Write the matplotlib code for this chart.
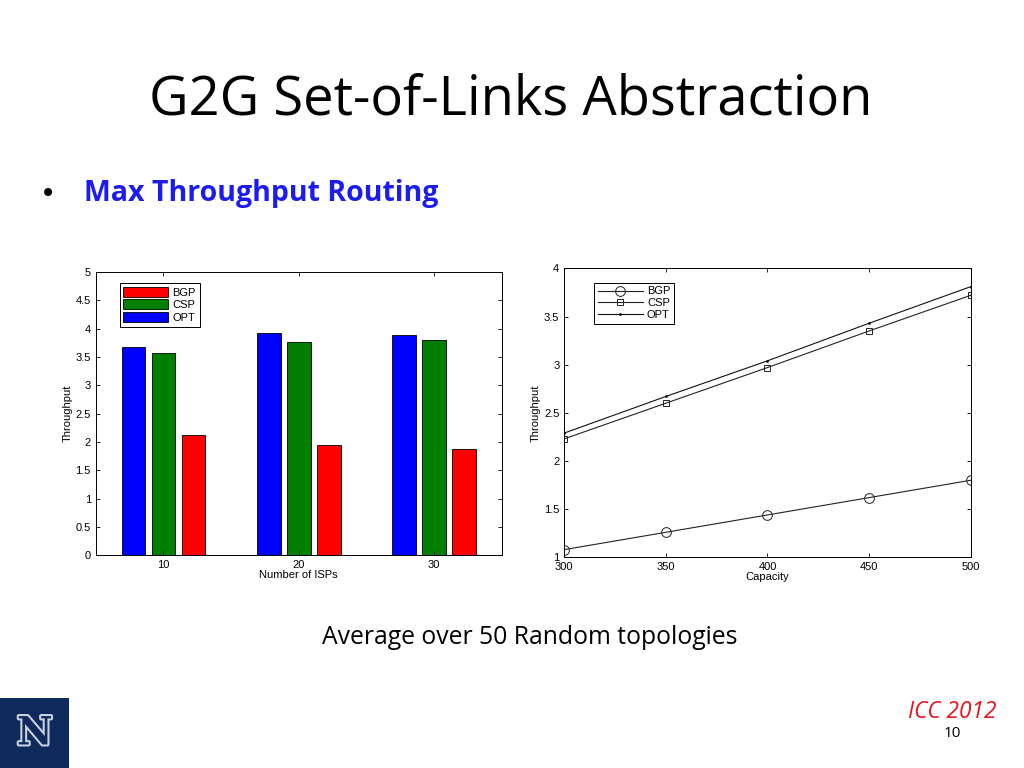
import numpy as np
import matplotlib
matplotlib.use('Agg')
import matplotlib.pyplot as plt
import matplotlib.patheffects as pe
from matplotlib.patches import Rectangle

# bar chart data (left)
isps = ["10", "20", "30"]
bar_opt = [3.67, 3.92, 3.88]
bar_csp = [3.57, 3.77, 3.80]
bar_bgp = [2.12, 1.94, 1.87]

# line chart data (right)
capacity = [300, 350, 400, 450, 500]
line_bgp = [1.08, 1.26, 1.44, 1.62, 1.80]
line_csp = [2.23, 2.60, 2.97, 3.35, 3.72]
line_opt = [2.29, 2.67, 3.04, 3.43, 3.81]

plt.rcParams['font.family'] = ['Liberation Sans', 'DejaVu Sans']

fig = plt.figure(figsize=(10.24, 7.68), dpi=100)
fig.patch.set_facecolor('white')

# slide texts
fig.text(0.4985, 0.87, "G2G Set-of-Links Abstraction", ha='center', va='center',
         fontsize=39.2, family=['Open Sans', 'DejaVu Sans'], color='black')
fig.text(0.047, 0.748, "\u2022", ha='center', va='center', fontsize=20, color='black',
         family=['DejaVu Sans'])
fig.text(0.082, 0.748, "Max Throughput Routing", ha='left', va='center', fontsize=20.5,
         fontweight='bold', color='#1c1cf0', family=['Open Sans', 'DejaVu Sans'])
fig.text(0.517, 0.17, "Average over 50 Random topologies", ha='center', va='center',
         fontsize=17.8, family=['Open Sans', 'DejaVu Sans'])
fig.text(0.973, 0.073, "ICC 2012", ha='right', va='center', fontsize=16.3, style='italic',
         color='#e8141c', family=['Open Sans', 'DejaVu Sans'])
fig.text(0.93, 0.045, "10", ha='center', va='center', fontsize=11,
         family=['Open Sans', 'DejaVu Sans'])

# logo
fig.patches.append(Rectangle((0, 0), 0.067, 0.091, transform=fig.transFigure,
                             facecolor='#0f2a5c', edgecolor='none'))
fig.text(0.034, 0.045, "N", ha='center', va='center', fontsize=28, fontweight='bold',
         family=['DejaVu Serif'], color='#0f2a5c',
         path_effects=[pe.withStroke(linewidth=3, foreground='#c8d0dc')])

tick_kw = dict(direction='in', labelsize=8, length=3, width=0.6,
               top=True, right=True)

# left: bar chart
ax1 = fig.add_axes([0.0935, 0.277, 0.3965, 0.369])
x = np.arange(1, len(isps) + 1)
w = 0.175
off = 0.222
ax1.bar(x - off, bar_opt, w, color='#0000ff', edgecolor='black', linewidth=0.6, label='OPT')
ax1.bar(x, bar_csp, w, color='#007f00', edgecolor='black', linewidth=0.6, label='CSP')
ax1.bar(x + off, bar_bgp, w, color='#ff0000', edgecolor='black', linewidth=0.6, label='BGP')
ax1.set_xlim(0.5, 3.5)
ax1.set_ylim(0, 5)
ax1.set_xticks(x)
ax1.set_xticklabels(isps)
ax1.set_yticks(np.arange(0, 5.01, 0.5))
ax1.set_yticklabels(["0", "0.5", "1", "1.5", "2", "2.5", "3", "3.5", "4", "4.5", "5"])
ax1.tick_params(**tick_kw)
ax1.set_xlabel("Number of ISPs", fontsize=8, labelpad=0)
ax1.set_ylabel("Throughput", fontsize=8, labelpad=2)
h, l = ax1.get_legend_handles_labels()
leg = ax1.legend(h[::-1], l[::-1], loc='upper left', fontsize=8, fancybox=False,
                 edgecolor='black', framealpha=1, borderpad=0.35, labelspacing=0.15,
                 handlelength=4.0, handleheight=1.0, handletextpad=0.4,
                 bbox_to_anchor=(0.045, 0.98))
leg.get_frame().set_linewidth(0.7)
for s in ax1.spines.values():
    s.set_linewidth(0.7)

# right: line chart
ax2 = fig.add_axes([0.551, 0.2743, 0.397, 0.3763])
ax2.plot(capacity, line_bgp, color='#222222', linewidth=0.8, marker='o', markersize=7,
         markerfacecolor='none', markeredgewidth=0.7, label='BGP')
ax2.plot(capacity, line_csp, color='#222222', linewidth=0.8, marker='s', markersize=4.5,
         markerfacecolor='none', markeredgewidth=0.7, label='CSP')
ax2.plot(capacity, line_opt, color='#111111', linewidth=0.8, marker='.', markersize=2,
         label='OPT')
ax2.set_xlim(300, 500)
ax2.set_ylim(1, 4)
ax2.set_xticks(capacity)
ax2.set_yticks([1, 1.5, 2, 2.5, 3, 3.5, 4])
ax2.set_yticklabels(["1", "1.5", "2", "2.5", "3", "3.5", "4"])
ax2.tick_params(**tick_kw)
ax2.set_xlabel("Capacity", fontsize=8, labelpad=0)
ax2.set_ylabel("Throughput", fontsize=8, labelpad=2)
leg2 = ax2.legend(loc='upper left', fontsize=8, fancybox=False, edgecolor='black',
                  framealpha=1, borderpad=0.35, labelspacing=0.15, handlelength=4.0,
                  handletextpad=0.4, bbox_to_anchor=(0.06, 0.97))
leg2.get_frame().set_linewidth(0.7)
for s in ax2.spines.values():
    s.set_linewidth(0.7)

fig.savefig("out.png", dpi=100, facecolor='white')
